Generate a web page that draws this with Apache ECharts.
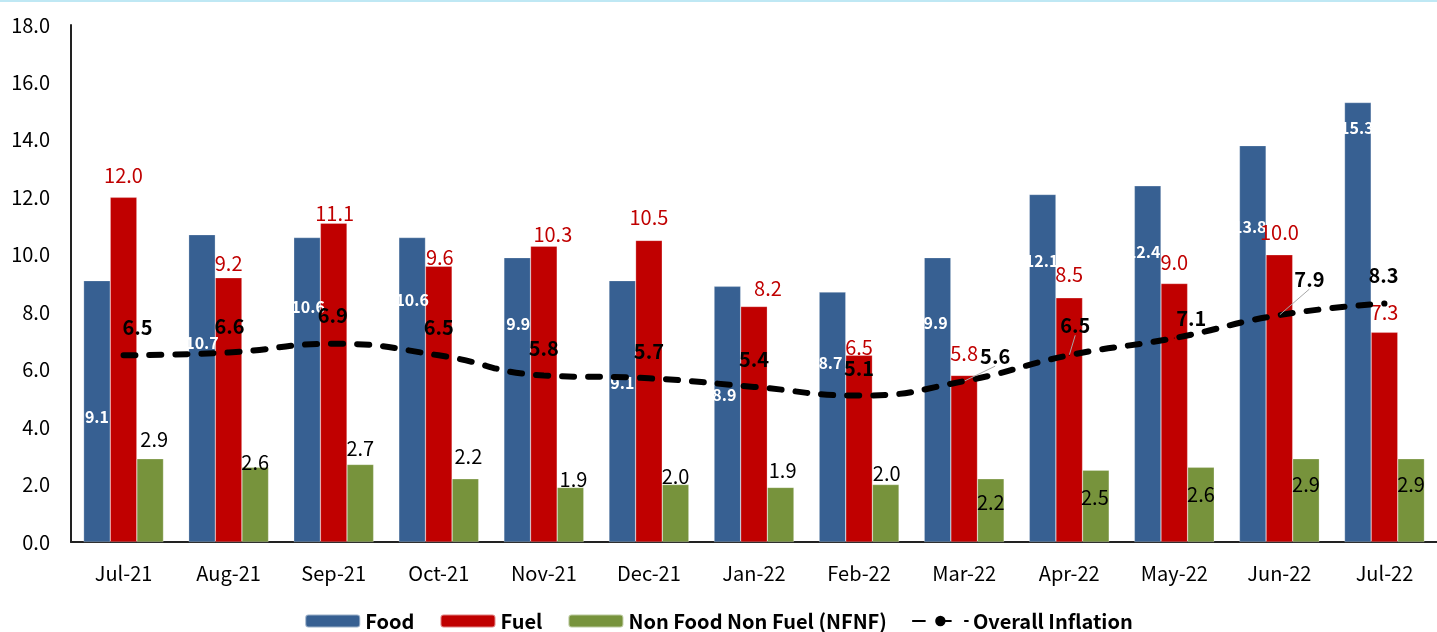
<!DOCTYPE html>
<html>
<head>
<meta charset="utf-8">
<script src="https://cdn.jsdelivr.net/npm/echarts@6/dist/echarts.min.js"></script>
<style>
    html, body { margin: 0; padding: 0; background: #fff; }
    #main { width: 1437px; height: 632px; }
</style>
</head>
<body>
<div id="main"></div>
<script>
    // data
    var months = ['Jul-21', 'Aug-21', 'Sep-21', 'Oct-21', 'Nov-21', 'Dec-21', 'Jan-22',
        'Feb-22', 'Mar-22', 'Apr-22', 'May-22', 'Jun-22', 'Jul-22'];
    var food = [9.1, 10.7, 10.6, 10.6, 9.9, 9.1, 8.9, 8.7, 9.9, 12.1, 12.4, 13.8, 15.3];
    var fuel = [12.0, 9.2, 11.1, 9.6, 10.3, 10.5, 8.2, 6.5, 5.8, 8.5, 9.0, 10.0, 7.3];
    var nfnf = [2.9, 2.6, 2.7, 2.2, 1.9, 2.0, 1.9, 2.0, 2.2, 2.5, 2.6, 2.9, 2.9];
    var overall = [6.5, 6.6, 6.9, 6.5, 5.8, 5.7, 5.4, 5.1, 5.6, 6.5, 7.1, 7.9, 8.3];
    var yTicks = [0, 2, 4, 6, 8, 10, 12, 14, 16, 18];

    // label placement (px, label centre relative to bar top / line point), hand placed like the excel original
    var foodLabelDx = [0, 0, 1, 0, 1, 0, -3, -2, -2, -1, -4, -3, -1];
    var foodLabelDy = [136, 108, 69, 62, 66, 102, 109, 71, 65, 66, 66, 81, 25];
    var fuelLabelDx = [0, 0, 1, 1, 9, 0, 14, 0, 0, 0, 0, 0, 0];
    var fuelLabelDy = [-22, -14, -10, -9, -12, -23, -18, -8, -22, -23, -21, -22, -20];
    var nfnfLabelDx = [4, 0, 0, 3, 3, 0, 2, 1, 0, -1, 0, 0, 0];
    var nfnfLabelDy = [-19, -5, -16, -22, -8, -8, -17, -11, 24, 27, 27, 26, 26];
    var allLabelDx = [14, 1, -1, 0, 0, 0, 0, 0, 31, 6, 17, 30, -1];
    var allLabelDy = [-28, -26, -28, -28, -27, -27, -27, -27, -25, -30, -20, -36, -28];
    var leaderLine = [false, false, false, false, false, false, false, false, true, true, false, true, false];

    var FONT = '"Noto Sans CJK SC", "Noto Sans", sans-serif';

    function barItems(values, dx, dy, size) {
        return values.map(function (v, i) {
            return {value: v, label: {offset: [dx[i], dy[i] - size / 2]}};
        });
    }

    function oneDecimal(p) {
        return p.value.toFixed(1);
    }

    var chart = echarts.init(document.getElementById('main'));

    var option = {
        animation: false,
        textStyle: {fontFamily: FONT},
        graphic: [{
            type: 'rect', left: 0, top: 0,
            shape: {width: 1437, height: 2},
            style: {fill: '#bfe8f4'}
        }],
        grid: {left: 71, right: -11, top: 25, bottom: 90},
        legend: {
            bottom: -4,
            left: 'center',
            itemWidth: 55,
            itemHeight: 13,
            itemGap: 25,
            textStyle: {fontFamily: FONT, fontSize: 20, fontWeight: 'bold', color: '#000'},
            data: ['Food', 'Fuel', 'Non Food Non Fuel (NFNF)', 'Overall Inflation']
        },
        xAxis: {
            type: 'category',
            data: months,
            axisLine: {lineStyle: {color: '#222', width: 2}},
            axisTick: {show: false},
            axisLabel: {color: '#000', fontSize: 20, margin: 21, fontFamily: FONT}
        },
        yAxis: {
            type: 'value',
            min: yTicks[0],
            max: yTicks[yTicks.length - 1],
            interval: 2,
            axisLine: {show: true, lineStyle: {color: '#222', width: 2}},
            axisTick: {show: false},
            splitLine: {show: false},
            axisLabel: {
                color: '#000', fontSize: 20, margin: 21, fontFamily: FONT,
                formatter: function (v) { return v.toFixed(1); }
            }
        },
        series: [
            {
                name: 'Food',
                type: 'bar',
                barGap: '0%',
                barCategoryGap: '24%',
                itemStyle: {color: '#376092', borderColor: 'rgba(255,255,255,0.5)', borderWidth: 0.5},
                label: {
                    show: true, position: 'insideTop', distance: 0,
                    color: '#fff', fontWeight: 'bold', fontSize: 16, fontFamily: FONT,
                    formatter: oneDecimal
                },
                data: barItems(food, foodLabelDx, foodLabelDy, 16)
            },
            {
                name: 'Fuel',
                type: 'bar',
                itemStyle: {color: '#c00000', borderColor: 'rgba(255,255,255,0.5)', borderWidth: 0.5},
                label: {
                    show: true, position: 'insideTop', distance: 0,
                    color: '#c00000', fontSize: 20, fontFamily: FONT,
                    formatter: oneDecimal
                },
                data: barItems(fuel, fuelLabelDx, fuelLabelDy, 20)
            },
            {
                name: 'Non Food Non Fuel (NFNF)',
                type: 'bar',
                itemStyle: {color: '#77933c', borderColor: 'rgba(255,255,255,0.5)', borderWidth: 0.5},
                label: {
                    show: true, position: 'insideTop', distance: 0,
                    color: '#000', fontSize: 20, fontFamily: FONT,
                    formatter: oneDecimal
                },
                data: barItems(nfnf, nfnfLabelDx, nfnfLabelDy, 20)
            },
            {
                name: 'Overall Inflation',
                type: 'line',
                smooth: true,
                symbol: 'circle',
                symbolSize: 1,
                z: 5,
                lineStyle: {color: '#000', width: 6, type: [12, 14], cap: 'round'},
                itemStyle: {color: '#000'},
                label: {
                    show: true, position: 'inside',
                    color: '#000', fontWeight: 'bold', fontSize: 20, fontFamily: FONT,
                    formatter: oneDecimal
                },
                labelLine: {show: false, lineStyle: {color: '#a6a6a6', width: 1}},
                data: overall.map(function (v, i) {
                    return {
                        value: v,
                        label: {offset: [allLabelDx[i], allLabelDy[i]]},
                        labelLine: {show: leaderLine[i]}
                    };
                })
            }
        ]
    };

    chart.setOption(option);
</script>
</body>
</html>
